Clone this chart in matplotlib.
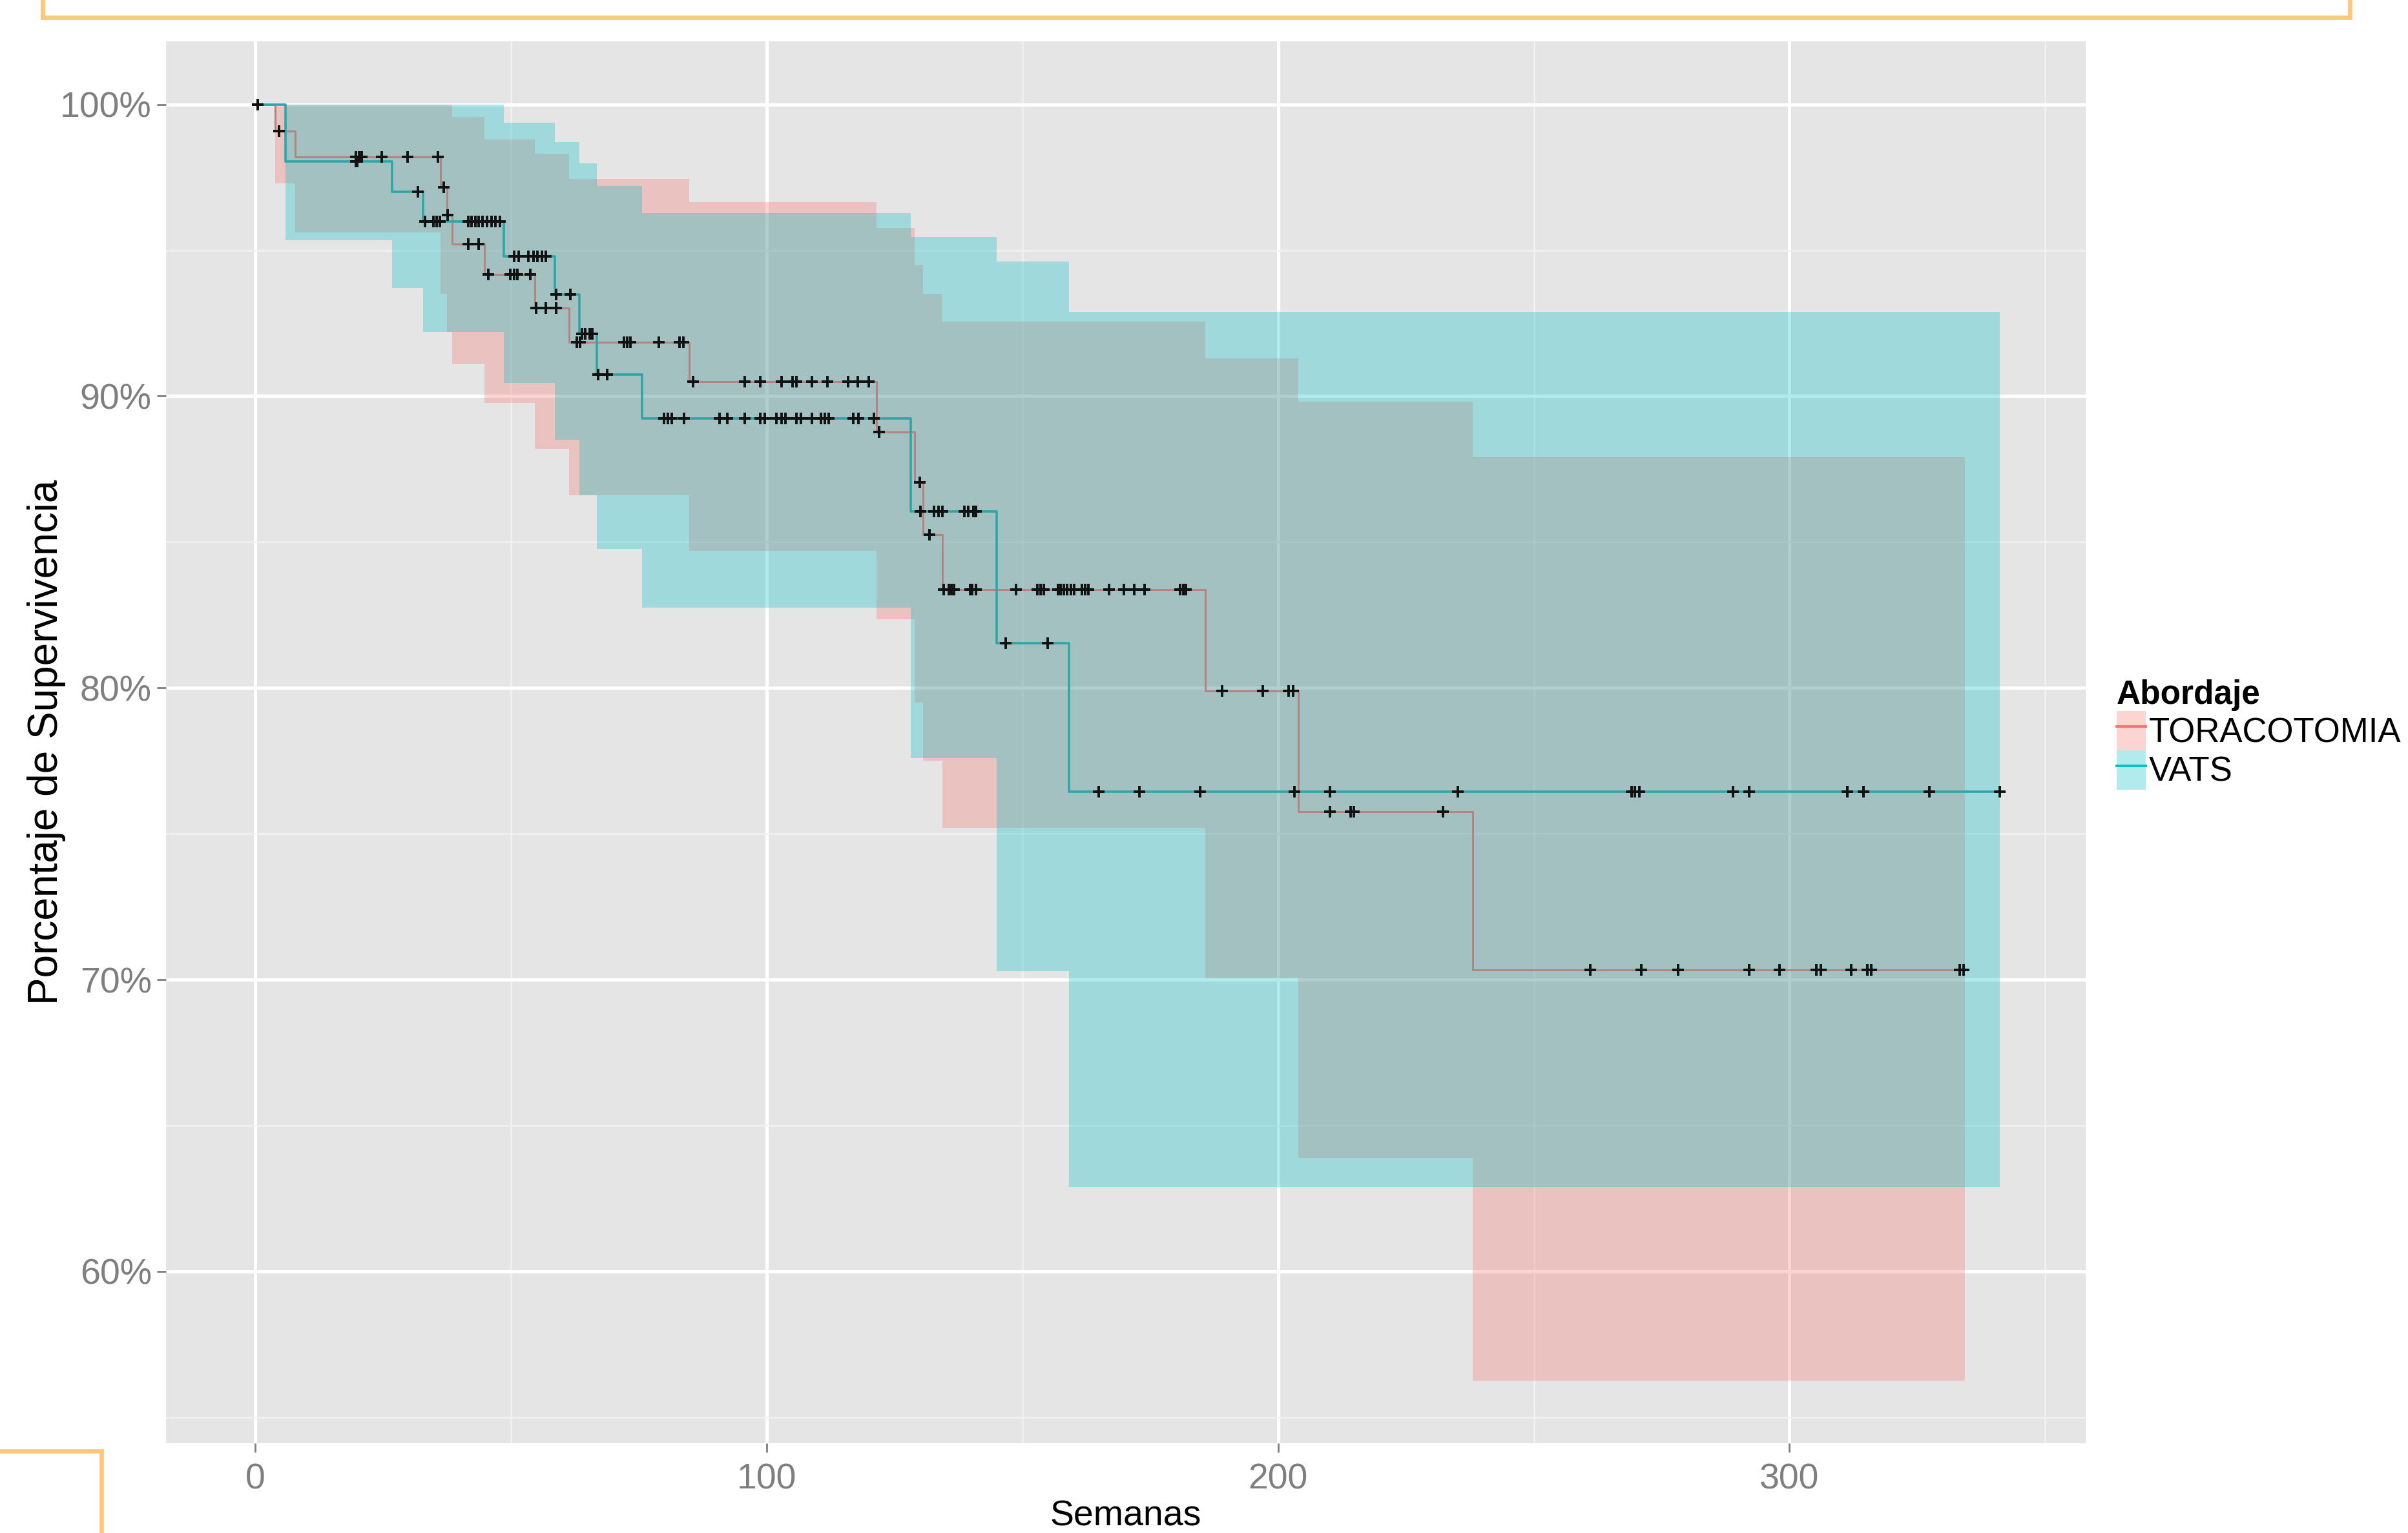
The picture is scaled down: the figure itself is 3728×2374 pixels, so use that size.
import numpy as np
import matplotlib
matplotlib.use('Agg')
import matplotlib.pyplot as plt
from matplotlib.lines import Line2D
from matplotlib.patches import Patch
from matplotlib.legend_handler import HandlerTuple

# Kaplan-Meier curves (weeks, % survival)
tora_time = [0, 3.9, 7.9, 36.3, 37.5, 38.6, 44.8, 54.7, 61.4, 84.9, 121.5, 129.0, 130.6, 134.4, 185.8, 204.0, 238.0]
tora_surv = [100, 99.08, 98.19, 97.16, 96.2, 95.21, 94.17, 93.03, 91.85, 90.5, 88.77, 87.04, 85.24, 83.38, 79.9, 75.75, 70.33]
tora_end = 334.3
tora_upper = [100, 100, 100, 100, 100, 99.56, 98.8, 98.3, 97.45, 96.66, 95.76, 94.5, 93.5, 92.55, 91.3, 89.8, 87.9]
tora_lower = [100, 97.3, 95.6, 93.5, 92.2, 91.1, 89.76, 88.2, 86.6, 84.7, 82.35, 79.5, 77.5, 75.2, 70.05, 63.9, 56.25]
tora_cens = [0.5, 4.7, 19.7, 20.3, 20.8, 24.8, 29.8, 35.8, 36.9, 37.7, 41.7, 43.7, 45.6, 49.9, 50.7,
             51.3, 53.8, 55.0, 56.9, 58.9, 62.9, 63.6, 72.1, 72.8, 73.4, 79.0, 83.0, 83.7, 85.7, 95.8,
             98.8, 102.9, 105.1, 105.9, 108.9, 111.9, 115.9, 117.9, 120.0, 122.0, 130.0, 131.9, 134.7,
             135.6, 136.1, 136.7, 139.8, 140.2, 140.9, 148.8, 153.0, 153.6, 154.2, 157.0, 157.5, 158.1,
             158.7, 159.5, 160.1, 161.7, 162.3, 162.9, 167.0, 169.9, 171.9, 173.9, 180.9, 181.5, 182.0,
             189.1, 197.0, 202.1, 202.9, 210.2, 214.2, 214.8, 232.2, 261.1, 271.0, 278.2, 292.1, 298.1,
             305.2, 306.1, 312.0, 315.2, 316.0, 333.3, 334.0]

vats_time = [0, 5.9, 26.8, 32.8, 48.7, 58.6, 63.4, 66.8, 75.7, 128.2, 145.0, 159.1]
vats_surv = [100, 98.05, 97.01, 95.98, 94.8, 93.49, 92.14, 90.74, 89.23, 86.04, 81.53, 76.45]
vats_end = 341.1
vats_upper = [100, 100, 100, 100, 99.37, 98.7, 97.97, 97.2, 96.27, 95.46, 94.62, 92.88]
vats_lower = [100, 95.34, 93.71, 92.2, 90.45, 88.5, 86.6, 84.77, 82.74, 77.6, 70.3, 62.9]
vats_cens = [0.5, 19.7, 20.0, 31.8, 33.3, 34.9, 35.5, 36.1, 41.7, 42.3, 43.1, 43.7, 44.5, 45.4, 46.2,
             47.0, 47.9, 50.7, 51.6, 53.5, 54.4, 55.2, 56.1, 56.9, 58.9, 61.7, 63.9, 64.6, 65.4, 66.0,
             67.1, 68.8, 79.9, 80.7, 81.5, 83.9, 90.8, 92.3, 95.8, 98.8, 99.6, 101.9, 102.9, 103.7,
             105.9, 106.7, 108.9, 110.7, 111.4, 112.2, 117.0, 118.0, 121.0, 130.1, 132.7, 133.6, 134.4,
             138.7, 139.5, 140.4, 140.9, 146.8, 155.0, 165.0, 172.9, 184.8, 203.2, 210.2, 235.1, 269.1,
             269.8, 270.7, 289.0, 292.1, 311.3, 314.4, 327.4, 341.1]

groups = ['TORACOTOMIA', 'VATS']
fill_colors = ['#F8766D', '#00BFC4']
line_colors = ['#B48580', '#2EA6A9']

x_ticks = [0, 100, 200, 300]
y_ticks = [60, 70, 80, 90, 100]

font = 'Liberation Sans'

W, H = 3728, 2374
fig = plt.figure(figsize=(W / 200, H / 200), dpi=200)
ax = fig.add_axes([257 / W, 1 - 2235 / H, (3229 - 257) / W, (2235 - 64) / H])
ax.set_facecolor('#E5E5E5')
for s in ax.spines.values():
    s.set_visible(False)

series = [
    (tora_time, tora_surv, tora_end, tora_upper, tora_lower, tora_cens),
    (vats_time, vats_surv, vats_end, vats_upper, vats_lower, vats_cens),
]

for i, (t, s, end, up, lo, cens) in enumerate(series):
    tx = np.array(t + [end])
    ax.fill_between(tx, lo + [lo[-1]], up + [up[-1]], step='post',
                    color=fill_colors[i], alpha=0.3, lw=0, zorder=2)

for i, (t, s, end, up, lo, cens) in enumerate(series):
    tx = np.array(t + [end])
    ax.step(tx, s + [s[-1]], where='post', color=line_colors[i], lw=[1.1, 1.3][i], zorder=3)
    idx = np.searchsorted(np.array(t), np.array(cens), side='right') - 1
    ax.plot(cens, np.array(s)[idx], ls='none', marker='+', color='#111111',
            ms=6.5, mew=1.4, zorder=4)

ax.set_xlim(-17.4, 357.9)
ax.set_ylim(54.11, 102.16)
ax.set_xticks(x_ticks)
ax.set_yticks(y_ticks)
ax.set_xticks([50, 150, 250, 350], minor=True)
ax.set_yticks([55, 65, 75, 85, 95], minor=True)
ax.set_yticklabels([f'{v}%' for v in y_ticks])
ax.grid(which='major', color='white', lw=1.8, zorder=0)
ax.grid(which='minor', color='#F2F2F2', lw=0.9, zorder=0)
ax.set_axisbelow(True)
ax.tick_params(which='major', length=5, width=1.0, color='#7F7F7F',
               labelcolor='#7F7F7F', labelsize=20, pad=6)
ax.tick_params(axis='y', pad=3)
ax.tick_params(which='minor', length=0)
for lab in ax.get_xticklabels() + ax.get_yticklabels():
    lab.set_fontfamily(font)

ax.set_xlabel('Semanas', fontsize=20, family=font, color='black')
ax.xaxis.set_label_coords(0.5, -0.0405)
ax.set_ylabel('Porcentaje de Supervivencia', fontsize=23, family=font, color='black')
ax.yaxis.set_label_coords(-0.052, 0.5)

handles = [(Patch(facecolor=fill_colors[i], alpha=0.3, lw=0),
            Line2D([], [], color=fill_colors[i], lw=1.4)) for i in range(2)]
leg = fig.legend(handles, groups, handler_map={tuple: HandlerTuple(ndivide=1, pad=0)},
                 loc='upper left', bbox_to_anchor=(3277 / W, 1 - 1052 / H),
                 frameon=False, handlelength=0.85, handleheight=1.4, handletextpad=0.1,
                 labelspacing=0.0, borderpad=0, borderaxespad=0,
                 title='Abordaje', alignment='left',
                 prop={'family': font, 'size': 19},
                 title_fontproperties={'family': font, 'size': 18.5, 'weight': 'bold'})

# orange frame pieces from the original screenshot
orange = '#FEC77E'
def px_line(xs, ys):
    fig.add_artist(Line2D([x / W for x in xs], [1 - y / H for y in ys],
                          transform=fig.transFigure, color=orange, lw=2.4))
px_line([66, 3638], [27, 27])
px_line([66, 66], [0, 27])
px_line([3638, 3638], [0, 27])
px_line([0, 157], [2247, 2247])
px_line([157, 157], [2247, 2374])

fig.savefig('out.png', dpi=200, facecolor='white')
